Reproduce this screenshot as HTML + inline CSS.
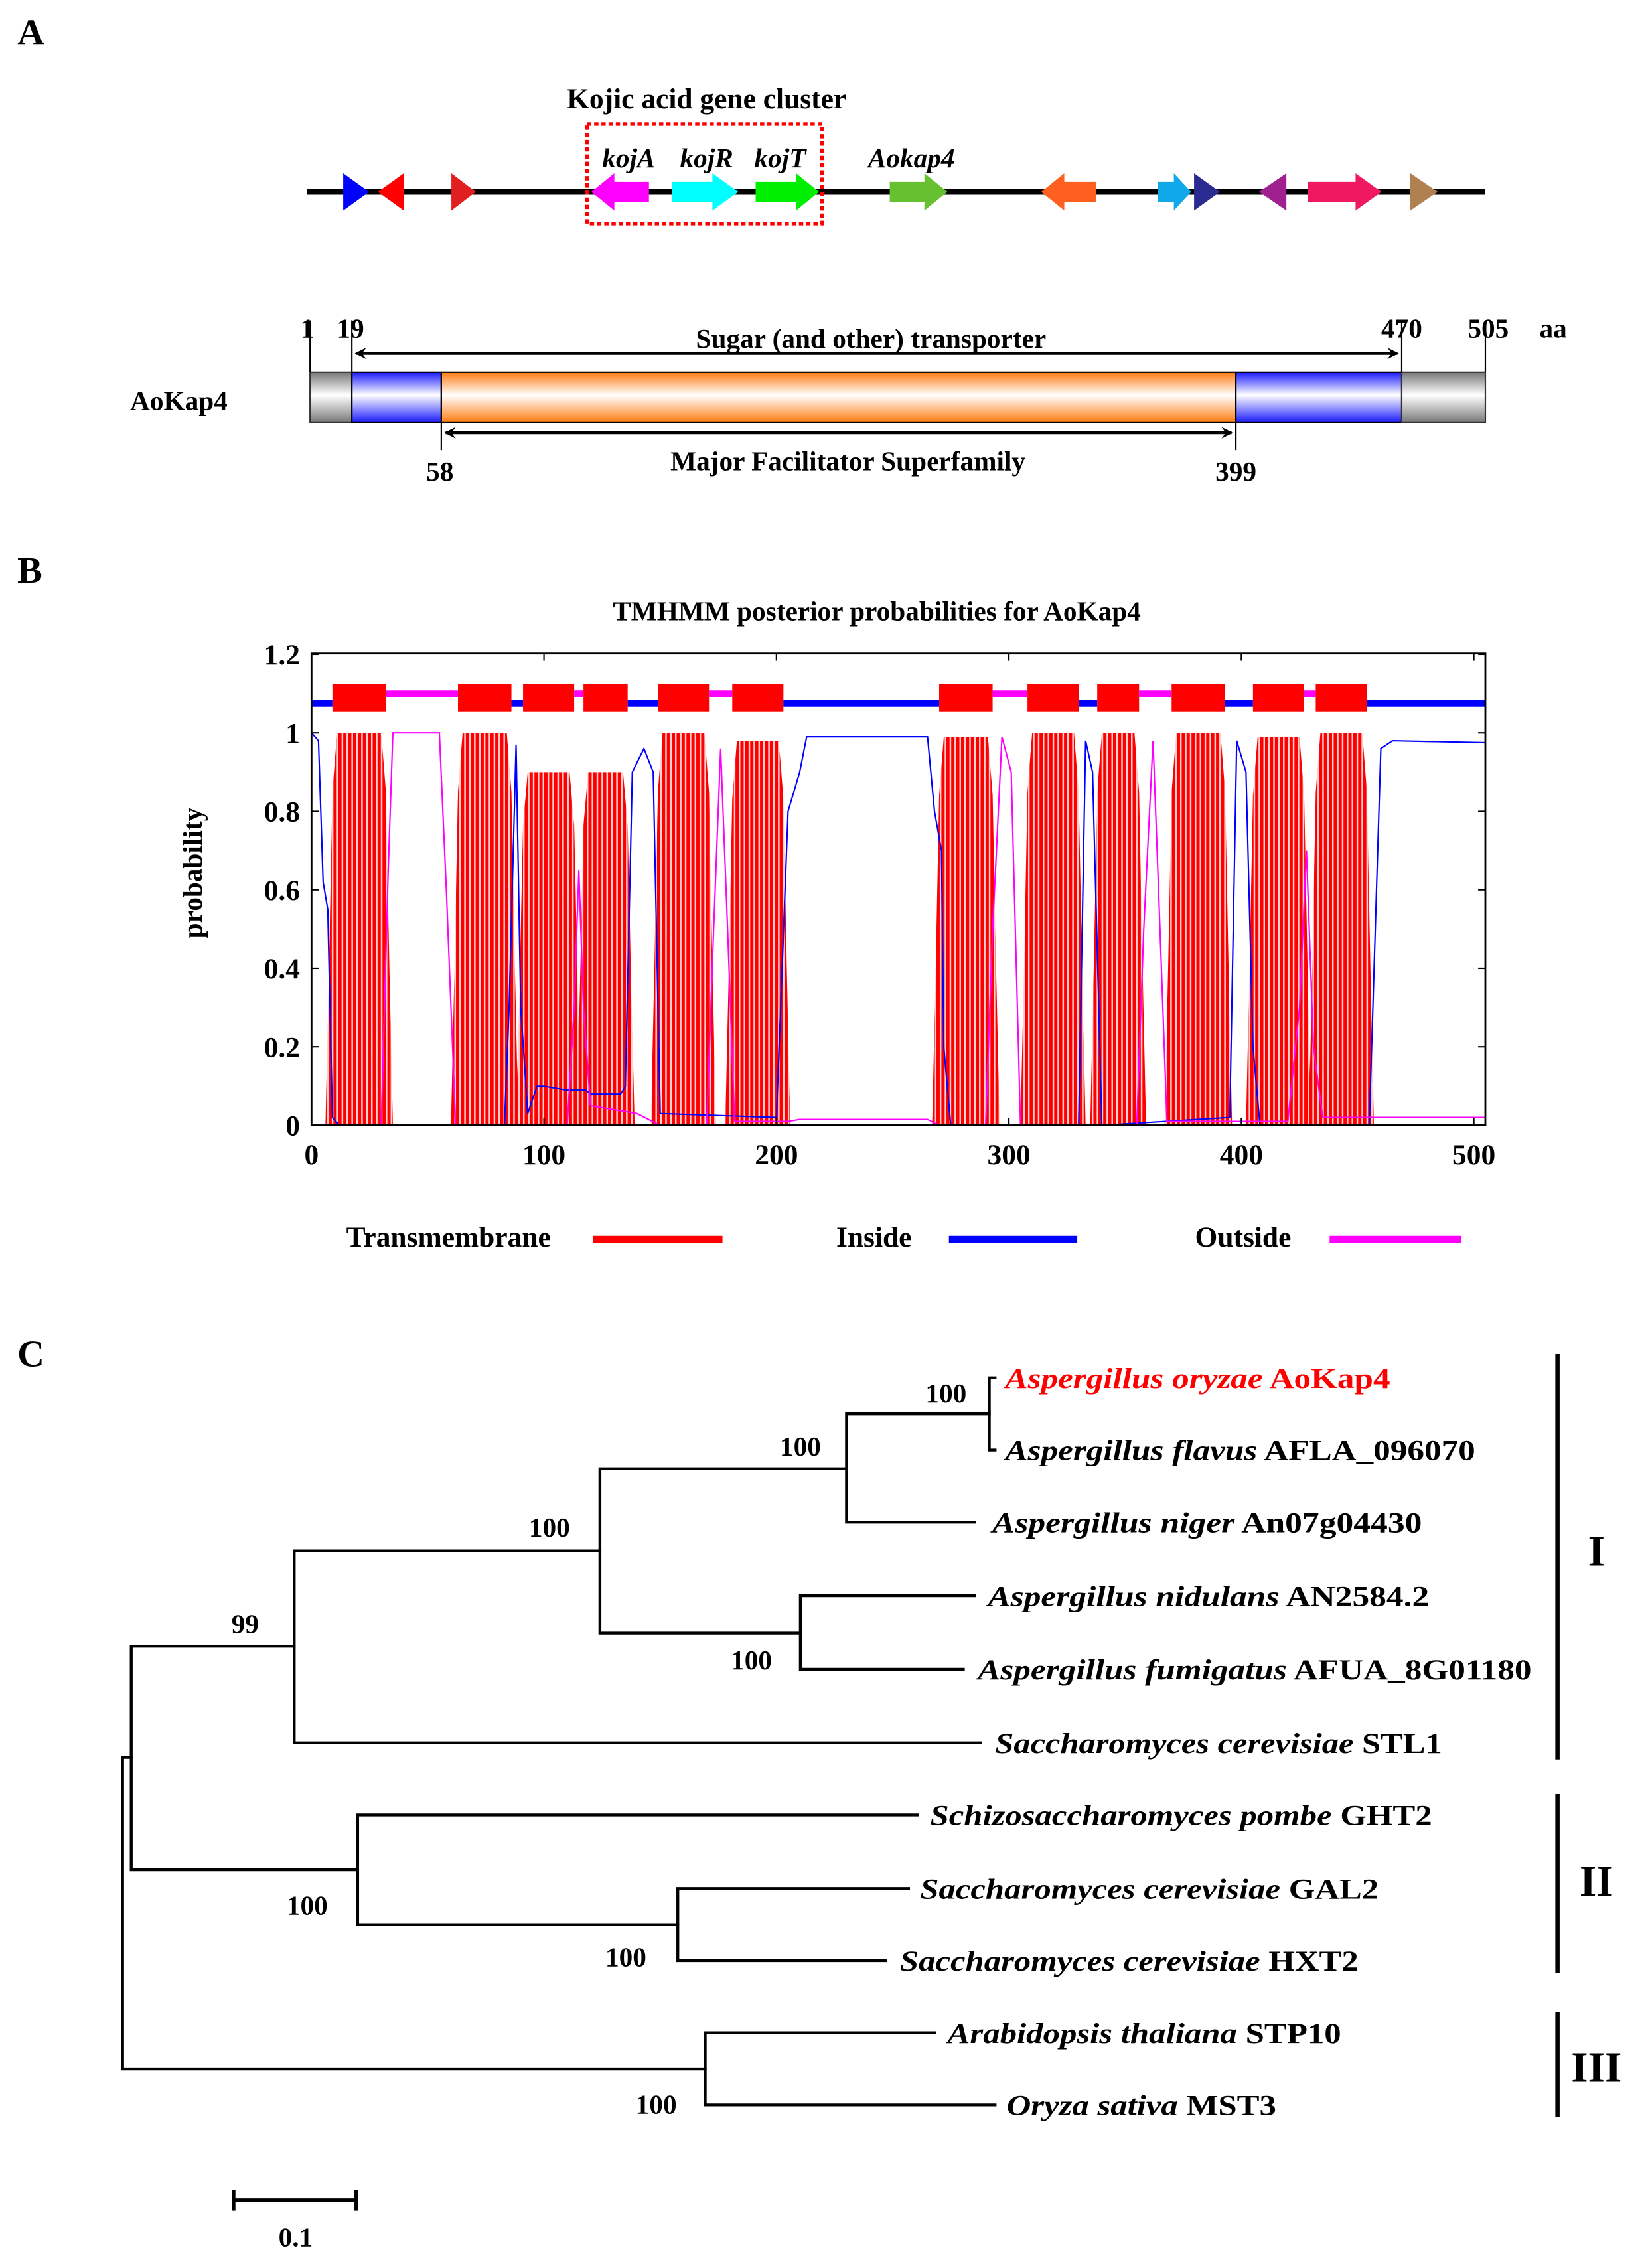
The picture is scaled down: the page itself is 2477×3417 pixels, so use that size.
<!DOCTYPE html>
<html><head><meta charset="utf-8"><style>
html,body{margin:0;padding:0;background:#fff;}
svg{display:block;}
text{font-family:"Liberation Serif",serif;font-weight:bold;fill:#000;}
</style></head><body>
<svg width="2477" height="3417" viewBox="0 0 1140 1572" preserveAspectRatio="none" xmlns="http://www.w3.org/2000/svg">
<defs>
<pattern id="stripes" patternUnits="userSpaceOnUse" width="3.4" height="10"><rect x="0" y="0" width="2.3" height="10" fill="#ff0000"/><rect x="2.3" y="0" width="1.1" height="10" fill="#ffd0d0"/></pattern>
<linearGradient id="gGray" x1="0" y1="0" x2="0" y2="1"><stop offset="0" stop-color="#777"/><stop offset="0.45" stop-color="#fff"/><stop offset="1" stop-color="#777"/></linearGradient>
<linearGradient id="gBlue" x1="0" y1="0" x2="0" y2="1"><stop offset="0" stop-color="#1a1aff"/><stop offset="0.45" stop-color="#fff"/><stop offset="1" stop-color="#1a1aff"/></linearGradient>
<linearGradient id="gOrange" x1="0" y1="0" x2="0" y2="1"><stop offset="0" stop-color="#ff7a10"/><stop offset="0.45" stop-color="#fff"/><stop offset="1" stop-color="#ff7a10"/></linearGradient>
<marker id="ah" markerWidth="8" markerHeight="8" refX="7" refY="4" orient="auto-start-reverse" markerUnits="userSpaceOnUse"><path d="M0,0 L8,4 L0,8 L3,4 Z" fill="#000"/></marker>
</defs>

<!-- PANEL A -->
<g>
<text x="12" y="31" font-size="26">A</text>
<text x="490" y="75" font-size="20" text-anchor="middle">Kojic acid gene cluster</text>
<line x1="213" y1="133" x2="1030" y2="133" stroke="#000" stroke-width="4"/>
<rect x="407" y="86" width="163" height="69" fill="none" stroke="#f00" stroke-width="2.5" stroke-dasharray="3,2"/>
<g>
<polygon points="238,120 256,133 238,146" fill="#0000ff"/>
<polygon points="280,120 262,133 280,146" fill="#ff0000"/>
<polygon points="313,120 330,133 313,146" fill="#e02020"/>
<polygon points="450,126 426,126 426,120 410,133 426,146 426,140 450,140" fill="#ff00ff"/>
<polygon points="466,126 494,126 494,120 512,133 494,146 494,140 466,140" fill="#00ffff"/>
<polygon points="524,126 552,126 552,120 568,133 552,146 552,140 524,140" fill="#00ee00"/>
<polygon points="617,126 641,126 641,120 657,133 641,146 641,140 617,140" fill="#66c030"/>
<polygon points="760,126 738,126 738,120 722,133 738,146 738,140 760,140" fill="#ff6020"/>
<polygon points="803,126 814,126 814,120 826,133 814,146 814,140 803,140" fill="#10a8e8"/>
<polygon points="828,120 846,133 828,146" fill="#2a2a90"/>
<polygon points="892,120 873,133 892,146" fill="#a02090"/>
<polygon points="907,126 940,126 940,120 958,133 940,146 940,140 907,140" fill="#f01860"/>
<polygon points="978,120 997,133 978,146" fill="#b08050"/>
</g>
<text x="436" y="116" font-size="19" font-style="italic" text-anchor="middle">kojA</text>
<text x="490" y="116" font-size="19" font-style="italic" text-anchor="middle">kojR</text>
<text x="541" y="116" font-size="19" font-style="italic" text-anchor="middle">kojT</text>
<text x="632" y="116" font-size="19" font-style="italic" text-anchor="middle">Aokap4</text>

<g>
<text x="124" y="284" font-size="19" text-anchor="middle">AoKap4</text>
<rect x="215" y="258" width="29" height="35" fill="url(#gGray)" stroke="#333" stroke-width="1"/>
<rect x="244" y="258" width="62" height="35" fill="url(#gBlue)" stroke="#000" stroke-width="1"/>
<rect x="306" y="258" width="551" height="35" fill="url(#gOrange)" stroke="#000" stroke-width="1"/>
<rect x="857" y="258" width="115" height="35" fill="url(#gBlue)" stroke="#000" stroke-width="1"/>
<rect x="972" y="258" width="58" height="35" fill="url(#gGray)" stroke="#333" stroke-width="1"/>
<line x1="215" y1="222" x2="215" y2="258" stroke="#000" stroke-width="1"/>
<line x1="244" y1="222" x2="244" y2="258" stroke="#000" stroke-width="1"/>
<line x1="972" y1="222" x2="972" y2="258" stroke="#000" stroke-width="1"/>
<line x1="1030" y1="222" x2="1030" y2="258" stroke="#000" stroke-width="1"/>
<line x1="306" y1="293" x2="306" y2="312" stroke="#000" stroke-width="1"/>
<line x1="857" y1="293" x2="857" y2="312" stroke="#000" stroke-width="1"/>
<line x1="247" y1="245" x2="969" y2="245" stroke="#000" stroke-width="2" marker-start="url(#ah)" marker-end="url(#ah)"/>
<line x1="309" y1="300" x2="854" y2="300" stroke="#000" stroke-width="2" marker-start="url(#ah)" marker-end="url(#ah)"/>
<text x="213" y="234" font-size="19" text-anchor="middle">1</text>
<text x="243" y="234" font-size="19" text-anchor="middle">19</text>
<text x="972" y="234" font-size="19" text-anchor="middle">470</text>
<text x="1032" y="234" font-size="19" text-anchor="middle">505</text>
<text x="1077" y="234" font-size="19" text-anchor="middle">aa</text>
<text x="604" y="241" font-size="19" text-anchor="middle">Sugar (and other) transporter</text>
<text x="588" y="326" font-size="19" text-anchor="middle">Major Facilitator Superfamily</text>
<text x="305" y="333" font-size="19" text-anchor="middle">58</text>
<text x="857" y="333" font-size="19" text-anchor="middle">399</text>
</g>
</g>

<!-- PANEL B -->
<g>
<text x="12" y="404" font-size="26">B</text>
<text x="608" y="430" font-size="19" text-anchor="middle">TMHMM posterior probabilities for AoKap4</text>
<text transform="translate(140,605) rotate(-90)" font-size="19" text-anchor="middle">probability</text>
<g id="plotB"></g>
<g>
<text x="311" y="864" font-size="20" text-anchor="middle">Transmembrane</text>
<line x1="411" y1="859" x2="501" y2="859" stroke="#ff0000" stroke-width="5"/>
<text x="606" y="864" font-size="20" text-anchor="middle">Inside</text>
<line x1="658" y1="859" x2="747" y2="859" stroke="#0000ff" stroke-width="5"/>
<text x="862" y="864" font-size="20" text-anchor="middle">Outside</text>
<line x1="922" y1="859" x2="1013" y2="859" stroke="#ff00ff" stroke-width="5"/>
</g>
</g>

<!-- PANEL C -->
<g stroke-linecap="square">
<text x="12" y="947" font-size="26">C</text>
<g stroke="#000" stroke-width="2" fill="none">
<path d="M686,955 V1005 M686,955 H690 M686,1005 H690"/>
<path d="M587,980 V1055 M587,980 H686 M587,1055 H676"/>
<path d="M555,1106 V1157 M555,1106 H676 M555,1157 H668"/>
<path d="M416,1018 V1132 M416,1018 H587 M416,1132 H555"/>
<path d="M204,1075 V1208 M204,1075 H416 M204,1208 H680"/>
<path d="M470,1309 V1359 M470,1309 H630 M470,1359 H614"/>
<path d="M248,1258 V1334 M248,1258 H636 M248,1334 H470"/>
<path d="M91,1141 V1296 M91,1141 H204 M91,1296 H248"/>
<path d="M489,1409 V1459 M489,1409 H648 M489,1459 H690"/>
<path d="M85,1218 V1434 M85,1218 H91 M85,1434 H489"/>
</g>
<g font-size="19">
<text x="656" y="972" text-anchor="middle">100</text>
<text x="555" y="1009" text-anchor="middle">100</text>
<text x="521" y="1157" text-anchor="middle">100</text>
<text x="381" y="1065" text-anchor="middle">100</text>
<text x="170" y="1132" text-anchor="middle">99</text>
<text x="434" y="1363" text-anchor="middle">100</text>
<text x="213" y="1327" text-anchor="middle">100</text>
<text x="455" y="1465" text-anchor="middle">100</text>
</g>
<g font-size="20">
<text x="697" y="962" fill="#ff0000" style="fill:#ff0000" textLength="267" lengthAdjust="spacingAndGlyphs"><tspan font-style="italic">Aspergillus oryzae</tspan> AoKap4</text>
<text x="697" y="1012" textLength="326" lengthAdjust="spacingAndGlyphs"><tspan font-style="italic">Aspergillus flavus</tspan> AFLA_096070</text>
<text x="688" y="1062" textLength="298" lengthAdjust="spacingAndGlyphs"><tspan font-style="italic">Aspergillus niger</tspan> An07g04430</text>
<text x="685" y="1113" textLength="306" lengthAdjust="spacingAndGlyphs"><tspan font-style="italic">Aspergillus nidulans</tspan> AN2584.2</text>
<text x="678" y="1164" textLength="384" lengthAdjust="spacingAndGlyphs"><tspan font-style="italic">Aspergillus fumigatus</tspan> AFUA_8G01180</text>
<text x="690" y="1215" textLength="310" lengthAdjust="spacingAndGlyphs"><tspan font-style="italic">Saccharomyces cerevisiae</tspan> STL1</text>
<text x="645" y="1265" textLength="348" lengthAdjust="spacingAndGlyphs"><tspan font-style="italic">Schizosaccharomyces pombe</tspan> GHT2</text>
<text x="638" y="1316" textLength="318" lengthAdjust="spacingAndGlyphs"><tspan font-style="italic">Saccharomyces cerevisiae</tspan> GAL2</text>
<text x="624" y="1366" textLength="318" lengthAdjust="spacingAndGlyphs"><tspan font-style="italic">Saccharomyces cerevisiae</tspan> HXT2</text>
<text x="657" y="1416" textLength="273" lengthAdjust="spacingAndGlyphs"><tspan font-style="italic">Arabidopsis thaliana</tspan> STP10</text>
<text x="698" y="1466" textLength="187" lengthAdjust="spacingAndGlyphs"><tspan font-style="italic">Oryza sativa</tspan> MST3</text>
</g>
<g stroke="#000" stroke-width="3">
<line x1="1080" y1="940" x2="1080" y2="1218"/>
<line x1="1080" y1="1245" x2="1080" y2="1366"/>
<line x1="1080" y1="1396" x2="1080" y2="1466"/>
</g>
<text x="1107" y="1085" font-size="30" text-anchor="middle">I</text>
<text x="1107" y="1314" font-size="30" text-anchor="middle">II</text>
<text x="1107" y="1443" font-size="30" text-anchor="middle">III</text>
<g stroke="#000" stroke-width="2.5">
<line x1="162" y1="1525" x2="247" y2="1525"/>
<line x1="162" y1="1519" x2="162" y2="1531"/>
<line x1="247" y1="1519" x2="247" y2="1531"/>
</g>
<text x="205" y="1557" font-size="19" text-anchor="middle">0.1</text>
</g>
</svg>
<script>
// TMHMM data
const tmStart = [9, 63, 91, 117, 149, 181, 270, 308, 338, 370, 405, 432];
const tmEnd   = [32, 86, 113, 136, 171, 203, 293, 330, 356, 393, 427, 454];
const tmPeak  = [1.0, 1.0, 0.9, 0.9, 1.0, 0.98, 0.99, 1.0, 1.0, 1.0, 0.99, 1.0];
const topoStart = [0, 9, 32, 63, 86, 91, 113, 117, 136, 149, 171, 181, 203, 270, 293, 308, 330, 338, 356, 370, 393, 405, 427, 432, 454];
const topoEnd   = [9, 32, 63, 86, 91, 113, 117, 136, 149, 171, 181, 203, 270, 293, 308, 330, 338, 356, 370, 393, 405, 427, 432, 454, 505];
const topoType  = ["in","tm","out","tm","in","tm","out","tm","in","tm","out","tm","in","tm","out","tm","in","tm","out","tm","in","tm","out","tm","in"];
const insideX = [0,3,5,7,9,12,35,55,60,83,85,88,90,93,97,100,110,118,120,133,135,138,143,147,150,200,205,210,213,265,268,271,272,275,300,330,333,336,340,395,398,402,405,408,455,460,465,505];
const insideY = [1,0.98,0.62,0.55,0.02,0,0,0,0,0,0.3,0.97,0.3,0.03,0.1,0.1,0.09,0.09,0.08,0.08,0.1,0.9,0.96,0.9,0.03,0.02,0.8,0.9,0.99,0.99,0.8,0.7,0.2,0,0,0,0.98,0.9,0,0.02,0.98,0.9,0.2,0,0,0.96,0.98,0.975];
const outsideX = [0,30,33,35,55,58,62,110,113,115,117,120,140,150,170,173,176,179,182,205,210,265,270,290,293,297,301,305,355,358,362,365,368,420,425,428,431,435,458,505];
const outsideY = [0,0,0.65,1,1,0.6,0,0,0.3,0.65,0.3,0.05,0.03,0,0,0.5,0.96,0.5,0.01,0.01,0.015,0.015,0,0,0.5,0.99,0.9,0,0,0.5,0.98,0.5,0.01,0.01,0.3,0.7,0.2,0.02,0.02,0.02];
const yTicks = [0, 0.2, 0.4, 0.6, 0.8, 1, 1.2];
const yTickLabels = ["0","0.2","0.4","0.6","0.8","1","1.2"];
const xTicks = [0, 100, 200, 300, 400, 500];
const xTickLabels = ["0","100","200","300","400","500"];

const NS = "http://www.w3.org/2000/svg";
const X0 = 216, X1 = 1030, Y0 = 780, YT = 453;
function xs(a){ return X0 + a * (806 / 500); }
function ys(p){ return Y0 - p * 272; }
const g = document.getElementById('plotB');
function mk(tag, attrs){ const e = document.createElementNS(NS, tag); for (const k in attrs) e.setAttribute(k, attrs[k]); g.appendChild(e); return e; }

for (let i = 0; i < tmStart.length; i++) {
  const s = tmStart[i], e = tmEnd[i], p = tmPeak[i];
  const pts = [[s-3,0],[s-1.5,p*0.4],[s,p*0.85],[s+2,p],[e-2,p],[e,p*0.85],[e+1.5,p*0.4],[e+3,0]];
  const poly = mk('polygon', {points: pts.map(q => xs(q[0]).toFixed(2)+','+ys(q[1]).toFixed(2)).join(' '), fill: 'url(#stripes)'});
  
  
}
const inl = mk('polyline', {points: insideX.map((x,i)=>xs(x)+','+ys(insideY[i])).join(' '), fill:'none', stroke:'#0000ff', 'stroke-width':1});


const outl = mk('polyline', {points: outsideX.map((x,i)=>xs(x)+','+ys(outsideY[i])).join(' '), fill:'none', stroke:'#ff00ff', 'stroke-width':1});


for (let i = 0; i < topoStart.length; i++) {
  const t = topoType[i];
  let el;
  if (t === 'tm') {
    el = mk('rect', {x: xs(topoStart[i]), y: ys(1.125), width: xs(topoEnd[i]) - xs(topoStart[i]), height: ys(1.055) - ys(1.125), fill: '#ff0000'});
  } else if (t === 'in') {
    el = mk('line', {x1: xs(topoStart[i]), x2: xs(topoEnd[i]), y1: ys(1.075), y2: ys(1.075), stroke: '#0000ff', 'stroke-width': 4.5});
  } else {
    el = mk('line', {x1: xs(topoStart[i]), x2: xs(topoEnd[i]), y1: ys(1.1), y2: ys(1.1), stroke: '#ff00ff', 'stroke-width': 4.5});
  }
  
  
}
const fr = mk('rect', {x: X0, y: YT, width: X1 - X0, height: Y0 - YT, fill: 'none', stroke: '#000', 'stroke-width': 1.3});


yTicks.forEach((v, i) => {
  mk('line', {x1: X0, x2: X0 + 5, y1: ys(v), y2: ys(v), stroke: '#000', 'stroke-width': 1});
  mk('line', {x1: X1, x2: X1 - 5, y1: ys(v), y2: ys(v), stroke: '#000', 'stroke-width': 1});
  const t = mk('text', {x: X0 - 8, y: ys(v) + 7, 'font-size': 20, 'text-anchor': 'end'});
  t.textContent = yTickLabels[i];
  
  
});
xTicks.forEach((v, i) => {
  mk('line', {x1: xs(v), x2: xs(v), y1: Y0, y2: Y0 - 5, stroke: '#000', 'stroke-width': 1});
  mk('line', {x1: xs(v), x2: xs(v), y1: YT, y2: YT + 5, stroke: '#000', 'stroke-width': 1});
  const t = mk('text', {x: xs(v), y: 807, 'font-size': 20, 'text-anchor': 'middle'});
  t.textContent = xTickLabels[i];
  
  
});
</script>
</body></html>
